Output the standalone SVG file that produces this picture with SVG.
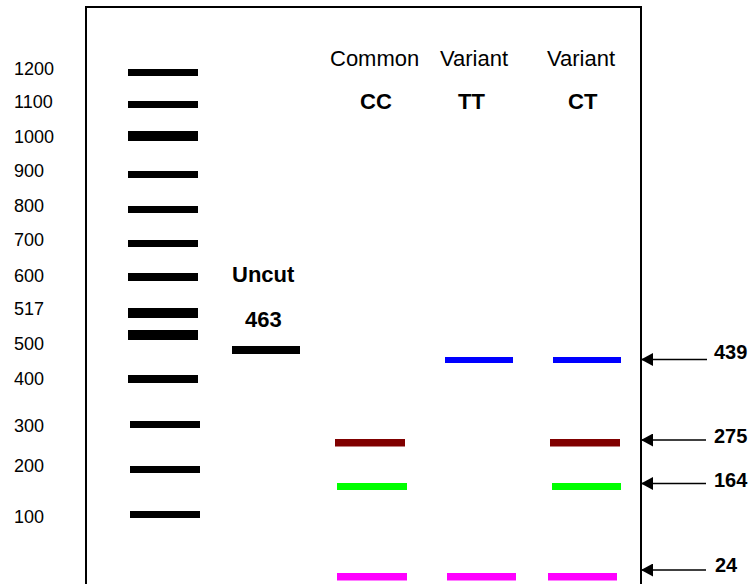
<svg xmlns="http://www.w3.org/2000/svg" width="751" height="584" viewBox="0 0 751 584">
<defs>
<style>
text{font-family:"Liberation Sans",Arial,sans-serif;fill:#000}
.sz{font-size:18px}
.hd{font-size:22px}
.b{font-weight:bold}
.bp{font-size:20px;font-weight:bold}
.lad{fill:#000}
.cn{stroke:#000;stroke-width:1.5;fill:none}
</style>
<marker id="ah" viewBox="0 0 12 13" markerWidth="12" markerHeight="13" refX="12" refY="6.5" orient="auto" markerUnits="userSpaceOnUse">
<path d="M0,0 L12,6.5 L0,13 Z" fill="#000"/>
</marker>
</defs>
<rect width="751" height="584" fill="#fff"/>
<g id="gel">
<path d="M86,590 L86,7 L641,7 L641,590" fill="none" stroke="#000" stroke-width="2"/>
</g>
<g id="size-labels">
<text class="sz" x="14" y="75">1200</text>
<text class="sz" x="14" y="108">1100</text>
<text class="sz" x="14" y="143">1000</text>
<text class="sz" x="14" y="177">900</text>
<text class="sz" x="14" y="212">800</text>
<text class="sz" x="14" y="246">700</text>
<text class="sz" x="14" y="282">600</text>
<text class="sz" x="14" y="315">517</text>
<text class="sz" x="14" y="350">500</text>
<text class="sz" x="14" y="385">400</text>
<text class="sz" x="14" y="432">300</text>
<text class="sz" x="14" y="472">200</text>
<text class="sz" x="14" y="523">100</text>
</g>
<g id="ladder" class="lad">
<rect x="128" y="69" width="70" height="7"/>
<rect x="128" y="101" width="70" height="7"/>
<rect x="128" y="131" width="70" height="10"/>
<rect x="128" y="171" width="70" height="7"/>
<rect x="128" y="206" width="70" height="7"/>
<rect x="128" y="240" width="70" height="7"/>
<rect x="128" y="273" width="70" height="8"/>
<rect x="128" y="308" width="70" height="10"/>
<rect x="128" y="330" width="70" height="10"/>
<rect x="128" y="375" width="70" height="8"/>
<rect x="130" y="421" width="70" height="7"/>
<rect x="130" y="466" width="70" height="7"/>
<rect x="130" y="511" width="70" height="7"/>
</g>
<g id="uncut">
<text class="hd b" x="232" y="282">Uncut</text>
<text class="hd b" x="245" y="327">463</text>
<rect x="232" y="346" width="68" height="8" fill="#000"/>
</g>
<g id="lane-cc">
<text class="hd" x="330" y="66">Common</text>
<text class="hd b" x="360" y="109">CC</text>
<rect x="335" y="439" width="70" height="7.5" fill="#800000"/>
<rect x="337" y="483" width="70" height="7" fill="#00ff00"/>
<rect x="337" y="573" width="70" height="7.5" fill="#ff00ff"/>
</g>
<g id="lane-tt">
<text class="hd" x="440" y="66">Variant</text>
<text class="hd b" x="458" y="109">TT</text>
<rect x="445" y="357" width="68" height="6" fill="#0000ff"/>
<rect x="447" y="573" width="69" height="7.5" fill="#ff00ff"/>
</g>
<g id="lane-ct">
<text class="hd" x="547" y="66">Variant</text>
<text class="hd b" x="568" y="109">CT</text>
<rect x="553" y="357" width="68" height="6" fill="#0000ff"/>
<rect x="550" y="439" width="70" height="7.5" fill="#800000"/>
<rect x="552" y="483" width="69" height="7" fill="#00ff00"/>
<rect x="548" y="573" width="69" height="7.5" fill="#ff00ff"/>
</g>
<g id="connectors">
<line class="cn" x1="707" y1="359.5" x2="641" y2="359.5" marker-end="url(#ah)"/>
<line class="cn" x1="706" y1="440" x2="641" y2="440" marker-end="url(#ah)"/>
<line class="cn" x1="706" y1="483.5" x2="641" y2="483.5" marker-end="url(#ah)"/>
<line class="cn" x1="706" y1="570" x2="641" y2="570" marker-end="url(#ah)"/>
</g>
<g id="fragment-labels">
<text class="bp" x="714" y="359">439</text>
<text class="bp" x="714" y="443">275</text>
<text class="bp" x="714" y="487">164</text>
<text class="bp" x="715" y="572">24</text>
</g>
</svg>
